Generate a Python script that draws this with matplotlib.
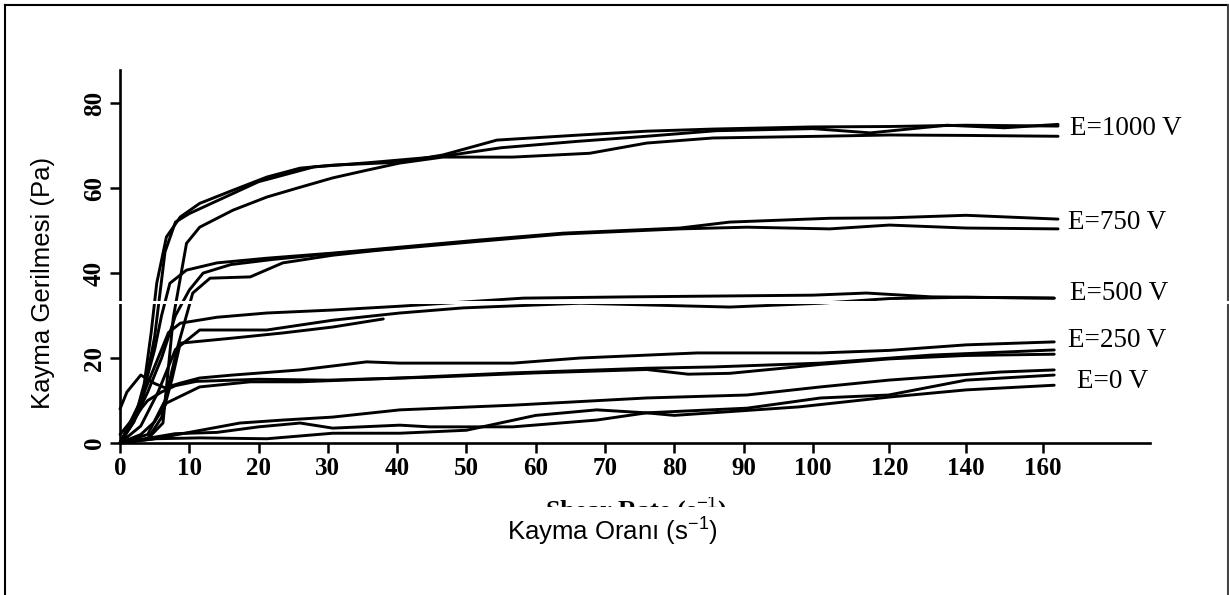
import numpy as np
import matplotlib
matplotlib.use("Agg")
import matplotlib.pyplot as plt
from matplotlib.lines import Line2D
from matplotlib.patches import Rectangle

plt.rcParams['mathtext.fontset'] = 'custom'
plt.rcParams['mathtext.rm'] = 'Liberation Sans'
plt.rcParams['mathtext.it'] = 'Liberation Sans'

# E = 1000 V
e1000_a_x = [0, 2, 3.5, 4.5, 5.3, 6.7, 8.7, 11.5, 16.3, 21.2, 26, 30.7, 40.4, 46.6, 54.4, 66.4, 76, 85.6, 100, 120, 140, 164]
e1000_a_y = [0, 5, 14, 26, 37.6, 48.5, 53.2, 56.4, 59.5, 62.6, 64.7, 65.4, 66.1, 67.8, 71.3, 72.5, 73.4, 73.9, 74.4, 74.5, 74.8, 74.6]
e1000_b_x = [0, 4, 6.2, 7.7, 9.6, 11.5, 16.3, 21.2, 26, 30.7, 35.6, 40.4, 46.6, 56.7, 67.8, 76, 85.6, 102, 120, 140, 164]
e1000_b_y = [0, 1, 4.7, 29.6, 47, 50.8, 54.8, 57.9, 60.2, 62.4, 64.2, 65.9, 67.3, 67.3, 68.2, 70.6, 71.8, 72.2, 72.5, 72.4, 72.2]
e1000_c_x = [0, 3, 5, 6.5, 8, 10, 14, 20, 28, 36, 46.6, 55, 66, 76, 86, 100, 115, 135, 150, 164]
e1000_c_y = [0, 8, 25, 45, 52, 54, 57, 61.5, 65, 66, 67.5, 69.5, 71, 72.2, 73.5, 74, 73, 74.8, 74.2, 75]

# E = 750 V
e750_a_x = [0, 3, 5, 6, 7.2, 9.6, 14, 21.2, 30.7, 40.4, 52, 64, 80.8, 88, 104.4, 120, 140, 164]
e750_a_y = [0, 10, 22, 30, 37.6, 40.7, 42.4, 43.5, 44.7, 46.1, 47.8, 49.4, 50.6, 52, 52.9, 53, 53.6, 52.7]
e750_b_x = [0, 4, 6.5, 8.2, 10.5, 13, 18.8, 23.5, 30.7, 37.5, 52, 64, 80.8, 90.5, 104.4, 120, 140, 164]
e750_b_y = [0, 2, 10, 21.9, 35.3, 38.8, 39.1, 42.4, 44.2, 45.4, 47.5, 49.2, 50.4, 50.8, 50.4, 51.3, 50.6, 50.4]
e750_c_x = [0, 2, 4, 6, 8, 10, 12, 16, 22, 30, 40]
e750_c_y = [0, 5, 12, 20, 30, 36, 40, 42, 43.2, 44.5, 45.8]

# E = 500 V
e500_a_x = [0, 2, 4, 6, 7, 8.7, 14, 21.2, 30.7, 40.4, 58.2, 73.6, 100, 114, 131, 163]
e500_a_y = [0, 6, 14, 22, 26, 28.2, 29.6, 30.6, 31.3, 32.2, 34.1, 34.4, 34.8, 35.3, 34.4, 34.1]
e500_b_x = [0, 3, 5.5, 8, 11.5, 21.2, 30.7, 40.4, 49.5, 66.4, 88, 102, 120, 140, 163]
e500_b_y = [0, 4, 12, 22, 26.6, 26.6, 28.9, 30.6, 31.8, 32.9, 32, 32.9, 34, 34.3, 34.1]
e500_c_x = [0, 4, 6, 7.5, 8.7, 16.3, 23.5, 30.7, 38]
e500_c_y = [0, 1, 6, 15, 23.5, 24.7, 25.9, 27.3, 29.2]

# E = 250 V
e250_a_x = [0, 1, 3, 5, 6.5, 8.7, 11.5, 16.3, 26, 35.6, 40.4, 56.7, 66.4, 83.3, 102, 120, 140, 163]
e250_a_y = [8, 12, 16, 14, 13, 14.1, 15.3, 16, 17.2, 19.1, 18.8, 18.8, 20, 21.2, 21.2, 21.8, 23.1, 23.8]
e250_b_x = [0, 3, 5, 6.7, 11.5, 18.8, 26, 40.4, 56.7, 76, 85.6, 102, 131, 163]
e250_b_y = [0, 2, 5, 9.4, 13.2, 14.4, 14.4, 15.3, 16.5, 17.6, 17.9, 18.8, 20.7, 21.9]
e250_c_x = [0, 2, 4, 6, 8, 11, 20, 30, 45, 60, 76, 82, 88, 95, 102, 120, 140, 163]
e250_c_y = [2, 6, 10, 12, 13.5, 14.5, 15, 14.8, 15.5, 16.5, 17.3, 16.2, 16.4, 17.5, 18.5, 19.8, 20.6, 20.9]

# E = 0 V
e0_a_x = [0, 5, 10, 17.3, 23.5, 30.7, 40.4, 56.7, 76, 90.5, 102, 119.8, 148.8, 163]
e0_a_y = [0, 1, 2.5, 4.7, 5.4, 6.1, 7.8, 8.9, 10.6, 11.3, 13.2, 14.8, 16.7, 17.2]
e0_b_x = [0, 8, 14, 20, 26, 30.7, 40.4, 44.7, 56.7, 68.8, 76, 90.5, 102, 119.8, 140, 163]
e0_b_y = [0, 2.2, 2.5, 3.8, 4.7, 3.5, 4.2, 3.8, 3.8, 5.4, 7.1, 8.2, 10.6, 11.3, 14.8, 16]
e0_c_x = [0, 5, 11.5, 21.2, 30.7, 40.4, 50, 60, 68.8, 76, 80, 98, 119.8, 140, 163]
e0_c_y = [0, 1, 1.2, 1, 2.3, 2.3, 3, 6.5, 7.8, 7.1, 6.5, 8.5, 10.8, 12.5, 13.6]

curves = [
    (e1000_a_x, e1000_a_y), (e1000_b_x, e1000_b_y), (e1000_c_x, e1000_c_y),
    (e750_a_x, e750_a_y), (e750_b_x, e750_b_y), (e750_c_x, e750_c_y),
    (e500_a_x, e500_a_y), (e500_b_x, e500_b_y), (e500_c_x, e500_c_y),
    (e250_a_x, e250_a_y), (e250_b_x, e250_b_y), (e250_c_x, e250_c_y),
    (e0_a_x, e0_a_y), (e0_b_x, e0_b_y), (e0_c_x, e0_c_y),
]

labels = ["E=1000 V", "E=750 V", "E=500 V", "E=250 V", "E=0 V"]
label_x = [167, 166.5, 167, 166.5, 169]
label_y = [74.1, 52, 35.3, 24.2, 14.4]

x_ticks = [0, 10, 20, 30, 40, 50, 60, 70, 80, 90, 100, 120, 140, 160]
y_ticks = [0, 20, 40, 60, 80]

# axis is squeezed above 100 in the original figure
K = 0.553
def fwd(x):
    x = np.asarray(x, dtype=float)
    return np.where(x <= 100, x, 100 + (x - 100) * K)

def inv(u):
    u = np.asarray(u, dtype=float)
    return np.where(u <= 100, u, 100 + (u - 100) / K)

W, H = 1229, 595
fig = plt.figure(figsize=(W / 100, H / 100), dpi=100)
ax = fig.add_axes([120 / W, 1 - 443 / H, (1150 - 120) / W, (443 - 70) / H])
ax.set_xscale('function', functions=(fwd, inv))

for xs, ys in curves:
    ax.plot(xs, ys, color='black', lw=2.1, solid_joinstyle='round', solid_capstyle='round', clip_on=False)

for txt, lx, ly in zip(labels, label_x, label_y):
    ax.text(lx, ly, txt, fontsize=19.5, family='Liberation Serif', va='center', ha='left')

ax.set_xlim(0, 188)
ax.set_ylim(0, 87.8)
ax.set_xticks(x_ticks)
ax.set_yticks(y_ticks)
ax.set_xticklabels([str(t) for t in x_ticks], fontsize=18, family='Liberation Serif', fontweight='bold')
ax.set_yticklabels([str(t) for t in y_ticks], fontsize=18, family='Liberation Serif', fontweight='bold',
                   rotation=90, va='center')
ax.tick_params(axis='both', direction='out', length=7, width=1.8, pad=3)
ax.minorticks_off()
for s in ['top', 'right']:
    ax.spines[s].set_visible(False)
for s in ['left', 'bottom']:
    ax.spines[s].set_linewidth(1.9)

# white scan streak crossing the plot
fig.add_artist(Line2D([110 / W, 1229 / W], [1 - 301.5 / H] * 2, color='white', lw=2.2, zorder=10))

# original english label: only the top of the letters peeks out above the turkish one
clip = Rectangle((0, 1 - 507 / H), 1, 10 / H, transform=fig.transFigure)
eng = fig.text(636 / W, 1 - 511 / H, "Shear Rate (s$^{-1}$)", fontsize=19, family='Liberation Serif',
               fontweight='bold', ha='center', va='center', zorder=3)
eng.set_clip_path(clip)
fig.text(612 / W, 1 - 532 / H, "Kayma Oranı (s$^{-1}$)", fontsize=18.5, family='Liberation Sans',
         ha='center', va='center', zorder=5)
fig.text(43 / W, 1 - 283 / H, "Kayma Gerilmesi (Pa)", fontsize=18.5, family='Liberation Sans',
         rotation=90, ha='center', va='center')

# outer frame
fig.add_artist(Line2D([5 / W, 5 / W], [0, 1 - 5 / H], color='black', lw=1.5))
fig.add_artist(Line2D([5 / W, 1228 / W], [1 - 5 / H] * 2, color='black', lw=1.5))
fig.add_artist(Line2D([1228 / W, 1228 / W], [0, 1 - 5 / H], color='#444444', lw=1.5))

fig.savefig("out.png", dpi=100)
